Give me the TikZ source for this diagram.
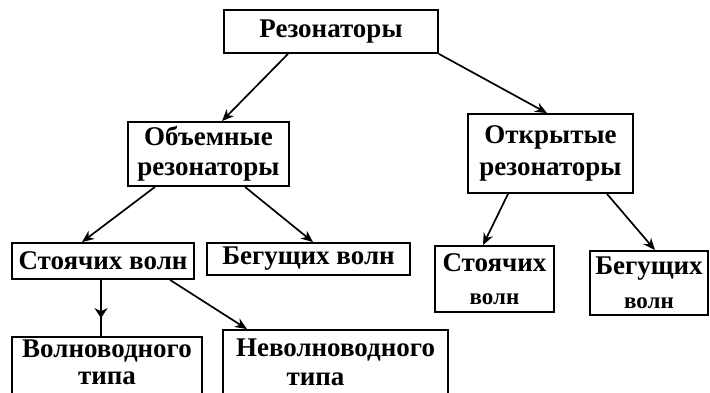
\documentclass[tikz,border=0pt]{standalone}
\usepackage{fontspec}
\setmainfont{Liberation Serif}
\usetikzlibrary{arrows.meta,calc,decorations.markings}
\begin{document}
\begin{tikzpicture}[x=1pt,y=-1pt,
  box/.style={draw, line width=1.8pt, inner sep=0pt, align=center,
    font=\fontsize{27}{31}\selectfont\bfseries},
  conn/.style={line width=1.7pt, -{Stealth[length=12pt,width=10pt]}},
  midarrow/.style={line width=1.3pt, postaction={decorate,
    decoration={markings, mark=at position 0.68 with {\arrow{Stealth[length=10pt,width=13pt]}}}}},
]
\useasboundingbox (0,0) rectangle (710,392);
\clip (0,0) rectangle (710,392);

\node[box, minimum width=214pt, minimum height=43pt] (top) at (331,31.5) {Резонаторы};
\node[box, minimum width=161pt, minimum height=64pt,
  font=\fontsize{27}{30}\selectfont\bfseries] (vol) at (208.5,154) {Объемные\\резонаторы};
\node[box, minimum width=165pt, minimum height=79pt,
  font=\fontsize{27}{32}\selectfont\bfseries] (open) at (550.5,153.5) {Открытые\\резонаторы};
\node[box, minimum width=182pt, minimum height=36pt] (st1) at (103,261) {Стоячих волн};
\node[box, minimum width=203pt, minimum height=32pt] (beg1) at (308.5,259) {Бегущих волн};
\node[box, minimum width=119pt, minimum height=66pt,
  font=\fontsize{27}{33}\selectfont\bfseries] (st2) at (494.5,279) {Стоячих\\{\fontsize{23}{25}\selectfont волн}};
\node[box, minimum width=118pt, minimum height=64pt,
  font=\fontsize{27}{34}\selectfont\bfseries] (beg2) at (649,283) {Бегущих\\{\fontsize{23}{25}\selectfont волн}};
\node[box, minimum width=190pt, minimum height=59pt, text depth=8pt,
  font=\fontsize{27}{27}\selectfont\bfseries] (wg) at (107,366.5) {Волноводного\\типа};
\node[box, minimum width=225pt, minimum height=65pt,
  font=\fontsize{27}{29}\selectfont\bfseries] (nwg) at (335.5,362.5) {Неволноводного\\типа\hspace*{40pt}};

\draw[conn] ([xshift=-43pt]top.south) -- ([xshift=13.5pt]vol.north);
\draw[conn] (top.south east) -- ([xshift=-3.5pt]open.north);
\draw[conn] ([xshift=-53.5pt]vol.south) -- ([xshift=-21pt]st1.north);
\draw[conn] ([xshift=36.5pt]vol.south) -- ([xshift=4.5pt]beg1.north);
\draw[conn] ([xshift=-42.5pt]open.south) -- ([xshift=-11.5pt]st2.north);
\draw[conn] ([xshift=56.5pt]open.south) -- ([xshift=6pt]beg2.north);
\draw[midarrow] ([xshift=-2pt]st1.south) -- ([xshift=-6pt]wg.north);
\draw[conn] ([xshift=67pt]st1.south) -- ([xshift=-88.5pt]nwg.north);
\end{tikzpicture}
\end{document}
